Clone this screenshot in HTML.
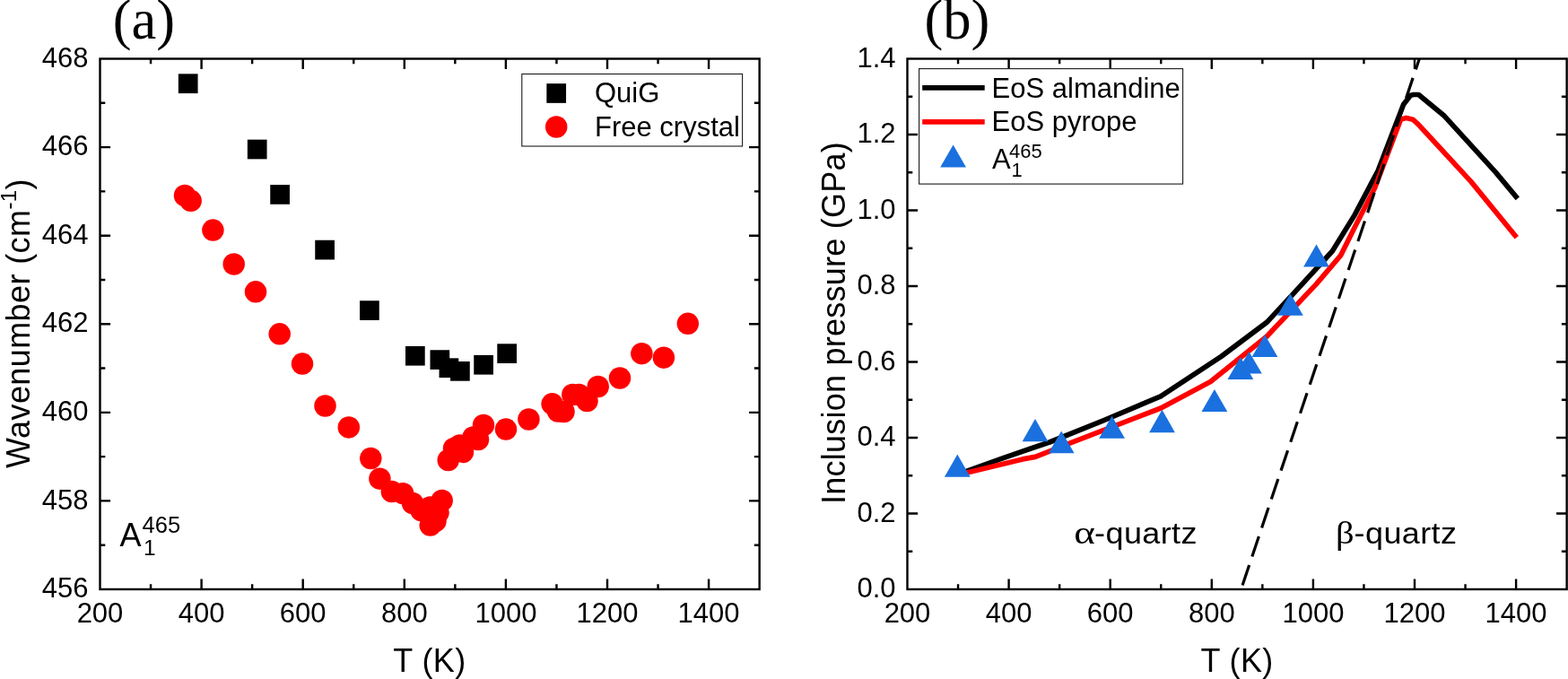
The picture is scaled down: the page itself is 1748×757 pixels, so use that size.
<!DOCTYPE html>
<html><head><meta charset="utf-8"><title>Figure</title>
<style>
html,body{margin:0;padding:0;background:#fff;overflow:hidden}
svg{display:block}
text{font-family:"Liberation Sans", Arial, sans-serif;fill:#000}
.tk{font-size:31px}
.lb{font-size:36px}
.sb{font-size:25.5px}
.sl{font-size:22px}
.sp{font-size:24px}
.tt{font-family:"Liberation Serif", "Times New Roman", serif;font-size:62.5px}
.gr{font-family:"Liberation Serif", "Times New Roman", serif}
.ls{letter-spacing:0.4px}
</style></head><body>
<svg width="1748" height="757" viewBox="0 0 1748 757">
<defs><clipPath id="cb"><rect x="1011.5" y="65.5" width="735.2" height="591.5"/></clipPath></defs>
<rect width="1748" height="757" fill="#fff"/>
<path d="M224.60 657.0v-11.6M224.60 65.51999999999998v11.6M337.70 657.0v-11.6M337.70 65.51999999999998v11.6M450.80 657.0v-11.6M450.80 65.51999999999998v11.6M563.90 657.0v-11.6M563.90 65.51999999999998v11.6M677.00 657.0v-11.6M677.00 65.51999999999998v11.6M790.10 657.0v-11.6M790.10 65.51999999999998v11.6M168.05 657.0v-5.8M168.05 65.51999999999998v5.8M281.15 657.0v-5.8M281.15 65.51999999999998v5.8M394.25 657.0v-5.8M394.25 65.51999999999998v5.8M507.35 657.0v-5.8M507.35 65.51999999999998v5.8M620.45 657.0v-5.8M620.45 65.51999999999998v5.8M733.55 657.0v-5.8M733.55 65.51999999999998v5.8M111.5 558.42h11.6M846.65 558.42h-11.6M111.5 459.84h11.6M846.65 459.84h-11.6M111.5 361.26h11.6M846.65 361.26h-11.6M111.5 262.68h11.6M846.65 262.68h-11.6M111.5 164.10h11.6M846.65 164.10h-11.6M111.5 607.71h5.8M846.65 607.71h-5.8M111.5 509.13h5.8M846.65 509.13h-5.8M111.5 410.55h5.8M846.65 410.55h-5.8M111.5 311.97h5.8M846.65 311.97h-5.8M111.5 213.39h5.8M846.65 213.39h-5.8M111.5 114.81h5.8M846.65 114.81h-5.8" stroke="#000" stroke-width="2.4" fill="none"/>
<rect x="111.5" y="65.51999999999998" width="735.15" height="591.48" stroke="#000" stroke-width="2.4" fill="none"/>
<text x="111.50" y="694.2" class="tk" text-anchor="middle">200</text>
<text x="224.60" y="694.2" class="tk" text-anchor="middle">400</text>
<text x="337.70" y="694.2" class="tk" text-anchor="middle">600</text>
<text x="450.80" y="694.2" class="tk" text-anchor="middle">800</text>
<text x="563.90" y="694.2" class="tk" text-anchor="middle">1000</text>
<text x="677.00" y="694.2" class="tk" text-anchor="middle">1200</text>
<text x="790.10" y="694.2" class="tk" text-anchor="middle">1400</text>
<text x="98.6" y="666.20" class="tk" text-anchor="end">456</text>
<text x="98.6" y="567.62" class="tk" text-anchor="end">458</text>
<text x="98.6" y="469.04" class="tk" text-anchor="end">460</text>
<text x="98.6" y="370.46" class="tk" text-anchor="end">462</text>
<text x="98.6" y="271.88" class="tk" text-anchor="end">464</text>
<text x="98.6" y="173.30" class="tk" text-anchor="end">466</text>
<text x="98.6" y="74.72" class="tk" text-anchor="end">468</text>
<g fill="#000"><rect x="198.85" y="82.35" width="21.7" height="21.7"/><rect x="275.85" y="155.65" width="21.7" height="21.7"/><rect x="301.25" y="206.05" width="21.7" height="21.7"/><rect x="351.25" y="267.75" width="21.7" height="21.7"/><rect x="401.05" y="335.25" width="21.7" height="21.7"/><rect x="452.00" y="385.90" width="21.7" height="21.7"/><rect x="479.50" y="390.25" width="21.7" height="21.7"/><rect x="489.55" y="399.35" width="21.7" height="21.7"/><rect x="502.05" y="403.00" width="21.7" height="21.7"/><rect x="528.25" y="395.90" width="21.7" height="21.7"/><rect x="554.30" y="383.30" width="21.7" height="21.7"/></g>
<g fill="#f00"><circle cx="206" cy="218" r="12.25"/><circle cx="212.7" cy="223.8" r="12.25"/><circle cx="237.4" cy="256.6" r="12.25"/><circle cx="260.7" cy="294.5" r="12.25"/><circle cx="285.0" cy="325.3" r="12.25"/><circle cx="311.7" cy="372.3" r="12.25"/><circle cx="337.0" cy="405.6" r="12.25"/><circle cx="362.5" cy="452.5" r="12.25"/><circle cx="388.8" cy="476.4" r="12.25"/><circle cx="413.3" cy="511.0" r="12.25"/><circle cx="423.4" cy="533.7" r="12.25"/><circle cx="436.8" cy="548.0" r="12.25"/><circle cx="449.2" cy="550.2" r="12.25"/><circle cx="460" cy="561" r="12.25"/><circle cx="469.5" cy="569" r="12.25"/><circle cx="479.5" cy="565.6" r="12.25"/><circle cx="479.7" cy="585.6" r="12.25"/><circle cx="485.5" cy="581" r="12.25"/><circle cx="488.5" cy="571.6" r="12.25"/><circle cx="492.7" cy="558.0" r="12.25"/><circle cx="499.7" cy="513" r="12.25"/><circle cx="506" cy="500" r="12.25"/><circle cx="512.3" cy="496.5" r="12.25"/><circle cx="516" cy="504" r="12.25"/><circle cx="527.5" cy="487.5" r="12.25"/><circle cx="533" cy="490" r="12.25"/><circle cx="539" cy="474" r="12.25"/><circle cx="564" cy="478.6" r="12.25"/><circle cx="589.4" cy="467.5" r="12.25"/><circle cx="615.6" cy="450.3" r="12.25"/><circle cx="622" cy="458.5" r="12.25"/><circle cx="628.5" cy="459" r="12.25"/><circle cx="638.3" cy="440" r="12.25"/><circle cx="645.5" cy="440" r="12.25"/><circle cx="654.5" cy="447" r="12.25"/><circle cx="666.7" cy="431" r="12.25"/><circle cx="691.0" cy="421.5" r="12.25"/><circle cx="715.4" cy="394.2" r="12.25"/><circle cx="739.9" cy="398.7" r="12.25"/><circle cx="766.8" cy="360.8" r="12.25"/></g>
<rect x="581.8" y="82.5" width="245.8" height="80.5" fill="#fff" stroke="#1a1a1a" stroke-width="1.1"/>
<rect x="609.35" y="93.15" width="21.7" height="21.7" fill="#000"/>
<circle cx="620.2" cy="141.5" r="12.25" fill="#f00"/>
<text x="663" y="114" class="tk">QuiG</text>
<text x="663" y="151.9" class="tk">Free crystal</text>
<text x="133.4" y="608.8" class="lb">A</text>
<text x="160" y="618.7" class="sb" style="font-size:24.5px">1</text>
<text x="158.6" y="594" class="sb">465</text>
<text x="479" y="749" class="lb ls" text-anchor="middle">T (K)</text>
<text transform="translate(33.4 360.5) rotate(-90)" class="lb ls" text-anchor="middle">Wavenumber (cm<tspan class="sp" dy="-15.4">-1</tspan><tspan dy="15.4">)</tspan></text>
<text x="125.8" y="43" class="tt">(a)</text>
<path d="M1124.60 657.0v-11.6M1124.60 65.5v11.6M1237.70 657.0v-11.6M1237.70 65.5v11.6M1350.80 657.0v-11.6M1350.80 65.5v11.6M1463.90 657.0v-11.6M1463.90 65.5v11.6M1577.00 657.0v-11.6M1577.00 65.5v11.6M1690.10 657.0v-11.6M1690.10 65.5v11.6M1068.05 657.0v-5.8M1068.05 65.5v5.8M1181.15 657.0v-5.8M1181.15 65.5v5.8M1294.25 657.0v-5.8M1294.25 65.5v5.8M1407.35 657.0v-5.8M1407.35 65.5v5.8M1520.45 657.0v-5.8M1520.45 65.5v5.8M1633.55 657.0v-5.8M1633.55 65.5v5.8M1011.5 572.50h11.6M1746.65 572.50h-11.6M1011.5 488.00h11.6M1746.65 488.00h-11.6M1011.5 403.50h11.6M1746.65 403.50h-11.6M1011.5 319.00h11.6M1746.65 319.00h-11.6M1011.5 234.50h11.6M1746.65 234.50h-11.6M1011.5 150.00h11.6M1746.65 150.00h-11.6M1011.5 614.75h5.8M1746.65 614.75h-5.8M1011.5 530.25h5.8M1746.65 530.25h-5.8M1011.5 445.75h5.8M1746.65 445.75h-5.8M1011.5 361.25h5.8M1746.65 361.25h-5.8M1011.5 276.75h5.8M1746.65 276.75h-5.8M1011.5 192.25h5.8M1746.65 192.25h-5.8M1011.5 107.75h5.8M1746.65 107.75h-5.8" stroke="#000" stroke-width="2.4" fill="none"/>
<rect x="1011.5" y="65.5" width="735.1500000000001" height="591.5" stroke="#000" stroke-width="2.4" fill="none"/>
<text x="1011.50" y="694.2" class="tk" text-anchor="middle">200</text>
<text x="1124.60" y="694.2" class="tk" text-anchor="middle">400</text>
<text x="1237.70" y="694.2" class="tk" text-anchor="middle">600</text>
<text x="1350.80" y="694.2" class="tk" text-anchor="middle">800</text>
<text x="1463.90" y="694.2" class="tk" text-anchor="middle">1000</text>
<text x="1577.00" y="694.2" class="tk" text-anchor="middle">1200</text>
<text x="1690.10" y="694.2" class="tk" text-anchor="middle">1400</text>
<text x="998.6" y="666.20" class="tk" text-anchor="end">0.0</text>
<text x="998.6" y="581.70" class="tk" text-anchor="end">0.2</text>
<text x="998.6" y="497.20" class="tk" text-anchor="end">0.4</text>
<text x="998.6" y="412.70" class="tk" text-anchor="end">0.6</text>
<text x="998.6" y="328.20" class="tk" text-anchor="end">0.8</text>
<text x="998.6" y="243.70" class="tk" text-anchor="end">1.0</text>
<text x="998.6" y="159.20" class="tk" text-anchor="end">1.2</text>
<text x="998.6" y="74.70" class="tk" text-anchor="end">1.4</text>
<polyline points="1071,527.6 1110,513.6 1150,499.7 1170,493 1230,468.8 1293.9,441.8 1361.5,397.4 1412.5,359.1 1442.8,326.4 1485.3,280.0 1510.3,239.4 1536.2,190.3 1564.6,116.5 1572.5,106.2 1576,105.5 1581.4,105.5 1610.2,129.3 1667.2,191.9 1691.8,221.4" fill="none" stroke="#000" stroke-width="5.7" stroke-linejoin="round"/>
<polyline points="1071,528.8 1080,526.6 1110,519.3 1140,511.9 1154.1,509.4 1193.2,493.9 1294.2,455 1349.5,425.5 1412,375.2 1467.5,316.6 1494.5,284.9 1508.4,256.9 1532.5,209.8 1561.6,133.0 1567.7,131.4 1575,133.2 1581,138.6 1589,147.2 1639.8,202.4 1690.8,264.8" fill="none" stroke="#f00" stroke-width="5.7" stroke-linejoin="round"/>
<line x1="1385.1" y1="652.4" x2="1586.6" y2="52.7" stroke="#000" stroke-width="3.2" stroke-dasharray="23.7 10" clip-path="url(#cb)"/>
<g fill="#1a70de"><polygon points="1052.90,531.7 1081.70,531.7 1067.3,506.6"/><polygon points="1139.60,492.3 1168.40,492.3 1154.0,466.9"/><polygon points="1168.80,505.3 1197.60,505.3 1183.2,480.4"/><polygon points="1225.20,488.8 1254.00,488.8 1239.6,463.8"/><polygon points="1281.10,482.2 1309.90,482.2 1295.5,456.8"/><polygon points="1339.50,459.0 1368.30,459.0 1353.9,434.1"/><polygon points="1368.50,422.9 1397.30,422.9 1382.9,397.9"/><polygon points="1378.00,416.6 1406.80,416.6 1392.4,391.9"/><polygon points="1395.60,397.9 1424.40,397.9 1410.0,373.0"/><polygon points="1424.00,351.7 1452.80,351.7 1438.4,327.2"/><polygon points="1453.10,297.6 1481.90,297.6 1467.5,272.6"/></g>
<rect x="1024.6" y="76.6" width="294" height="128.5" fill="#fff" stroke="#1a1a1a" stroke-width="1.1"/>
<line x1="1028.2" y1="97.95" x2="1097.7" y2="97.95" stroke="#000" stroke-width="5.8"/>
<line x1="1028.2" y1="135.9" x2="1097.7" y2="135.9" stroke="#f00" stroke-width="5.9"/>
<polygon points="1048.1999999999998,186.5 1077.0,186.5 1062.6,161.6" fill="#1a70de"/>
<text x="1105.6" y="109.2" class="tk">EoS almandine</text>
<text x="1105.6" y="145.8" class="tk">EoS pyrope</text>
<text x="1106" y="187.5" class="tk">A</text>
<text x="1127.5" y="196.5" class="sl">1</text>
<text x="1125" y="175.8" class="sl">465</text>
<text transform="translate(1197.3 606) scale(1.25 1)" class="lb gr">α</text>
<text transform="translate(1220.1 606) scale(1 0.92)" class="lb ls">-quartz</text>
<text transform="translate(1489 606) scale(1.13 1)" class="lb gr">β</text>
<text transform="translate(1509.6 606) scale(1 0.92)" class="lb ls">-quartz</text>
<text x="1379.08" y="749" class="lb ls" text-anchor="middle">T (K)</text>
<text transform="translate(942 360) rotate(-90)" class="lb" style="letter-spacing:0.25px" text-anchor="middle">Inclusion pressure (GPa)</text>
<text x="1030.5" y="43" class="tt">(b)</text>
</svg>
</body></html>
